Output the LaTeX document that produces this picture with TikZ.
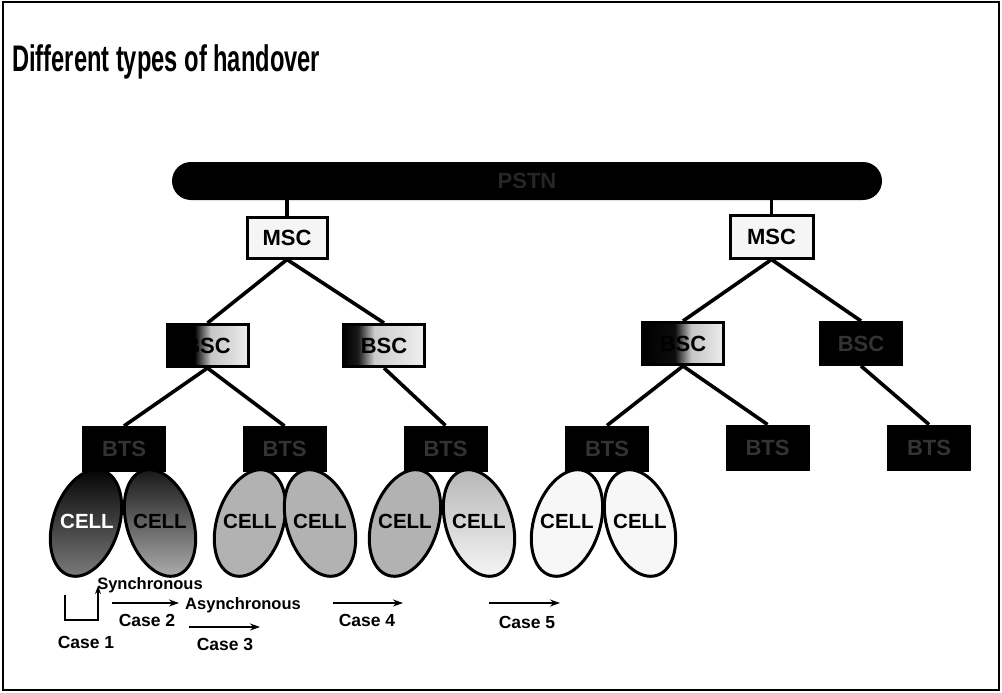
\documentclass[tikz,border=0pt]{standalone}
\usepackage{fontspec}
\setmainfont{Liberation Sans}
\usepackage{graphicx}
\usetikzlibrary{arrows.meta}
\pgfdeclarehorizontalshading{bscA}{100bp}{color(0bp)=(black); color(25bp)=(black); color(42bp)=(black); color(52bp)=(gray!45); color(75bp)=(gray!15); color(100bp)=(gray!15)}
\pgfdeclarehorizontalshading{bscB}{100bp}{color(0bp)=(black); color(25bp)=(black); color(34bp)=(black!90); color(44bp)=(gray!40); color(75bp)=(gray!12); color(100bp)=(gray!12)}
\pgfdeclarehorizontalshading{bscC}{100bp}{color(0bp)=(black); color(25bp)=(black); color(45bp)=(black!95); color(55bp)=(gray!45); color(75bp)=(gray!15); color(100bp)=(gray!15)}
\begin{document}
\begin{tikzpicture}[x=1pt,y=-1pt,
  netbar/.style={fill=black, rounded corners=19pt, minimum width=710pt, minimum height=38pt, inner sep=0pt, text=black!85, font=\fontsize{22}{22}\selectfont\bfseries},
  boxbase/.style={draw=black, line width=3pt, inner sep=0pt, font=\fontsize{22}{22}\selectfont\bfseries},
  mscbox/.style={boxbase, fill=gray!8, minimum width=80pt, minimum height=41pt},
  bscbox/.style={boxbase, minimum width=81pt, minimum height=42pt},
  btsbox/.style={boxbase, fill=black, text=black!80, minimum width=81pt, minimum height=43pt},
  conn/.style={line width=3.6pt},
  cellshape/.style={draw=black, line width=3pt},
  celltext/.style={font=\fontsize{20.5}{20.5}\selectfont\bfseries, inner sep=0pt},
  lbl/.style={font=\fontsize{16.5}{16.5}\selectfont\bfseries, inner sep=0pt},
  caselbl/.style={font=\fontsize{17.5}{17.5}\selectfont\bfseries, inner sep=0pt},
  arr/.style={line width=2pt, -{Stealth[length=10pt,width=7pt]}}
]
\useasboundingbox (0,0) rectangle (1002,693);
\draw[line width=1.2pt] (3,2) rectangle (999,690);

% title
\node[anchor=base west, inner sep=0pt, font=\fontsize{37}{37}\selectfont\bfseries] (title) at (12,72) {\scalebox{0.64}[1]{Different types of handover}};

% network bar
\node[netbar] (net) at (527,181) {PSTN};

% MSCs
\node[mscbox] (msc1) at (287,237.5) {MSC};
\node[mscbox, minimum width=83pt, minimum height=43pt] (msc2) at (771.5,236.5) {MSC};

% BSCs
\node[bscbox, shading=bscA] (bsc1) at (207.5,345.5) {BSC};
\node[bscbox, shading=bscB] (bsc2) at (384,345.5) {BSC};
\node[bscbox, shading=bscC] (bsc3) at (683,343.5) {BSC};
\node[bscbox, fill=black, text=black!80] (bsc4) at (861,343.5) {BSC};

% BTSs
\node[btsbox] (bts1) at (124,449) {BTS};
\node[btsbox] (bts2) at (284.5,449) {BTS};
\node[btsbox] (bts3) at (445.5,448.5) {BTS};
\node[btsbox] (bts4) at (607,448.5) {BTS};
\node[btsbox] (bts5) at (767.5,447.5) {BTS};
\node[btsbox] (bts6) at (929,447.5) {BTS};

% connectors
\draw[conn] (msc1 |- net.south) -- (msc1.north);
\draw[conn] (msc2 |- net.south) -- (msc2.north);
\draw[conn] (msc1.south) -- (bsc1.north);
\draw[conn] (msc1.south) -- (bsc2.north);
\draw[conn] (msc2.south) -- (bsc3.north);
\draw[conn] (msc2.south) -- (bsc4.north);
\draw[conn] (bsc1.south) -- (bts1.north);
\draw[conn] (bsc1.south) -- (bts2.north);
\draw[conn] (bsc2.south) -- (bts3.north);
\draw[conn] (bsc3.south) -- (bts4.north);
\draw[conn] (bsc3.south) -- (bts5.north);
\draw[conn] (bsc4.south) -- (bts6.north);

% cells
\draw[cellshape, top color=black, middle color=black!85, bottom color=black!50, rotate around={-18:(86,523)}] (86,523) ellipse [x radius=33, y radius=55];
\draw[cellshape, top color=black!90, middle color=black!40, bottom color=black!30, rotate around={18:(160,523)}] (160,523) ellipse [x radius=33, y radius=55];
\draw[cellshape, fill=black!30, rotate around={-18:(250,523)}] (250,523) ellipse [x radius=33, y radius=55];
\draw[cellshape, fill=black!30, rotate around={18:(320,523)}] (320,523) ellipse [x radius=33, y radius=55];
\draw[cellshape, fill=black!30, rotate around={-18:(405,523)}] (405,523) ellipse [x radius=33, y radius=55];
\draw[cellshape, top color=black!28, bottom color=black!3, rotate around={18:(479,523)}] (479,523) ellipse [x radius=33, y radius=55];
\draw[cellshape, fill=black!3, rotate around={-18:(567,523)}] (567,523) ellipse [x radius=33, y radius=55];
\draw[cellshape, fill=black!3, rotate around={18:(640,523)}] (640,523) ellipse [x radius=33, y radius=55];

\node[celltext, text=white] (cell1) at (87,521) {CELL};
\node[celltext] (cell2) at (160,521) {CELL};
\node[celltext] (cell3) at (250,521) {CELL};
\node[celltext] (cell4) at (320,521) {CELL};
\node[celltext] (cell5) at (405,521) {CELL};
\node[celltext] (cell6) at (479,521) {CELL};
\node[celltext] (cell7) at (567,521) {CELL};
\node[celltext] (cell8) at (640,521) {CELL};

% handover cases
\node[lbl] (sync) at (150,585) {Synchronous};
\coordinate (c1a) at (65,595);
\coordinate (c1b) at (98,586);
\draw[line width=2pt, -{Stealth[length=8pt,width=6pt]}] (c1a) -- (c1a |- 0,620) -- (c1b |- 0,620) -- (c1b);
\node[caselbl] (case1) at (86,642) {Case 1};

\node[lbl] (async) at (243,605) {Asynchronous};
\coordinate (a2s) at (112,603);
\coordinate (a2e) at (179,603);
\draw[arr] (a2s) -- (a2e);
\node[caselbl] (case2) at (147,620) {Case 2};

\coordinate (a3s) at (189,627);
\coordinate (a3e) at (260,627);
\draw[arr] (a3s) -- (a3e);
\node[caselbl] (case3) at (225,644) {Case 3};

\coordinate (a4s) at (333,603);
\coordinate (a4e) at (403,603);
\draw[arr] (a4s) -- (a4e);
\node[caselbl] (case4) at (367,620) {Case 4};

\coordinate (a5s) at (489,603);
\coordinate (a5e) at (560,603);
\draw[arr] (a5s) -- (a5e);
\node[caselbl] (case5) at (527,622) {Case 5};
\end{tikzpicture}
\end{document}
